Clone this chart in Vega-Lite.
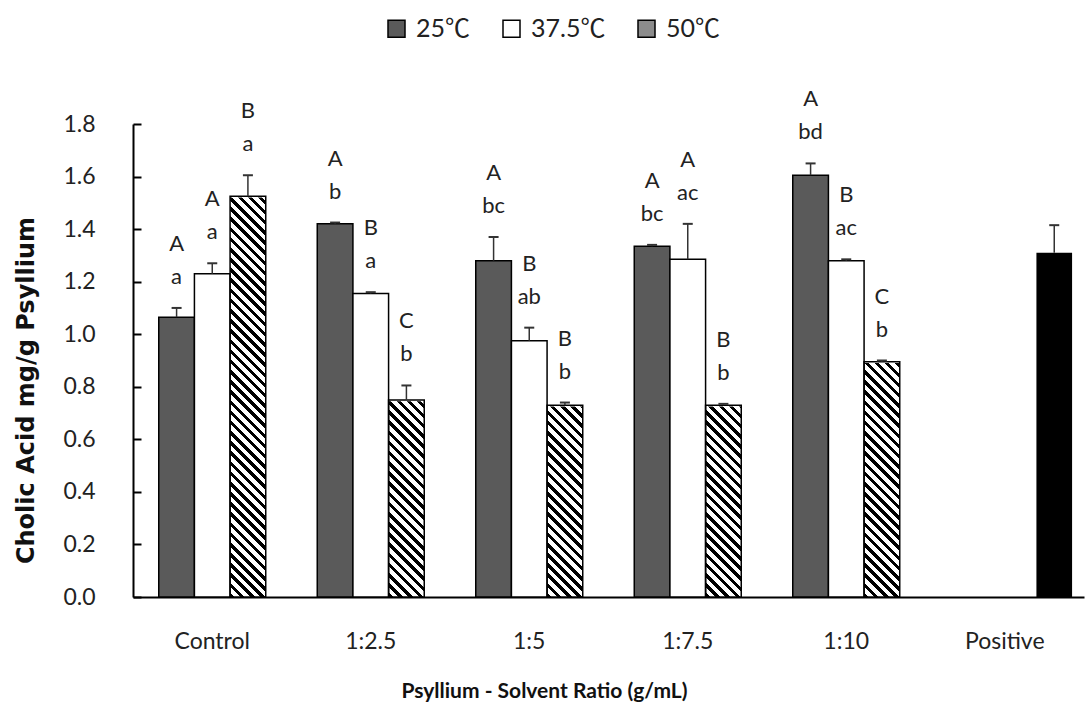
{
 "$schema": "https://vega.github.io/schema/vega-lite/v6.json",
 "width": 951,
 "height": 473,
 "autosize": {"type": "none"},
 "padding": {"left": 133, "top": 124, "right": 1, "bottom": 111},
 "background": "white",
 "config": {"view": {"stroke": null}, "font": "Lato"},
 "data": {"values": [
  {"cat": "Control", "series": "25℃", "value": 1.065, "upper": 1.10, "top": "A", "low": "a"},
  {"cat": "Control", "series": "37.5℃", "value": 1.23, "upper": 1.27, "top": "A", "low": "a"},
  {"cat": "Control", "series": "50℃", "value": 1.525, "upper": 1.605, "top": "B", "low": "a"},
  {"cat": "1:2.5", "series": "25℃", "value": 1.42, "upper": 1.425, "top": "A", "low": "b"},
  {"cat": "1:2.5", "series": "37.5℃", "value": 1.155, "upper": 1.16, "top": "B", "low": "a"},
  {"cat": "1:2.5", "series": "50℃", "value": 0.75, "upper": 0.805, "top": "C", "low": "b"},
  {"cat": "1:5", "series": "25℃", "value": 1.28, "upper": 1.37, "top": "A", "low": "bc"},
  {"cat": "1:5", "series": "37.5℃", "value": 0.975, "upper": 1.025, "top": "B", "low": "ab"},
  {"cat": "1:5", "series": "50℃", "value": 0.73, "upper": 0.74, "top": "B", "low": "b"},
  {"cat": "1:7.5", "series": "25℃", "value": 1.335, "upper": 1.34, "top": "A", "low": "bc"},
  {"cat": "1:7.5", "series": "37.5℃", "value": 1.285, "upper": 1.42, "top": "A", "low": "ac"},
  {"cat": "1:7.5", "series": "50℃", "value": 0.73, "upper": 0.735, "top": "B", "low": "b"},
  {"cat": "1:10", "series": "25℃", "value": 1.605, "upper": 1.65, "top": "A", "low": "bd"},
  {"cat": "1:10", "series": "37.5℃", "value": 1.28, "upper": 1.285, "top": "B", "low": "ac"},
  {"cat": "1:10", "series": "50℃", "value": 0.895, "upper": 0.90, "top": "C", "low": "b"},
  {"cat": "Positive", "series": "Positive", "value": 1.31, "upper": 1.415, "top": "", "low": ""}
 ]},
 "layer": [
  {
   "transform": [{"filter": "datum.cat !== 'Positive'"}],
   "encoding": {
    "x": {"field": "cat", "type": "nominal",
     "scale": {"domain": ["Control", "1:2.5", "1:5", "1:7.5", "1:10", "Positive"], "paddingInner": 0.325, "paddingOuter": 0.1625},
     "axis": {"title": "Psyllium - Solvent Ratio (g/mL)", "labelAngle": 0, "ticks": false, "domainColor": "#000", "domainWidth": 2,
      "labelFont": "Lato", "labelFontSize": 23, "labelColor": "#222", "labelPadding": 33,
      "titleFont": "Lato", "titleFontWeight": "bold", "titleFontSize": 21, "titleColor": "#111", "titleX": 411, "titleY": 83}},
    "xOffset": {"field": "series", "type": "nominal", "scale": {"domain": ["25℃", "37.5℃", "50℃"], "paddingInner": 0, "paddingOuter": 0}}
   },
   "layer": [
    {
     "transform": [{"filter": "datum.series === '50℃'"}],
     "mark": {"type": "bar", "strokeWidth": 0, "fill": {"gradient": "linear", "x1": 0, "y1": 1, "x2": 0.08062, "y2": -0.06931, "stops": [
      {"offset":0,"color":"#000"},{"offset":0.009,"color":"#000"},{"offset":0.009,"color":"#fff"},{"offset":0.02,"color":"#fff"},
      {"offset":0.02,"color":"#000"},{"offset":0.029,"color":"#000"},{"offset":0.029,"color":"#fff"},{"offset":0.04,"color":"#fff"},
      {"offset":0.04,"color":"#000"},{"offset":0.049,"color":"#000"},{"offset":0.049,"color":"#fff"},{"offset":0.06,"color":"#fff"},
      {"offset":0.06,"color":"#000"},{"offset":0.069,"color":"#000"},{"offset":0.069,"color":"#fff"},{"offset":0.08,"color":"#fff"},
      {"offset":0.08,"color":"#000"},{"offset":0.089,"color":"#000"},{"offset":0.089,"color":"#fff"},{"offset":0.1,"color":"#fff"},
      {"offset":0.1,"color":"#000"},{"offset":0.109,"color":"#000"},{"offset":0.109,"color":"#fff"},{"offset":0.12,"color":"#fff"},
      {"offset":0.12,"color":"#000"},{"offset":0.129,"color":"#000"},{"offset":0.129,"color":"#fff"},{"offset":0.14,"color":"#fff"},
      {"offset":0.14,"color":"#000"},{"offset":0.149,"color":"#000"},{"offset":0.149,"color":"#fff"},{"offset":0.16,"color":"#fff"},
      {"offset":0.16,"color":"#000"},{"offset":0.169,"color":"#000"},{"offset":0.169,"color":"#fff"},{"offset":0.18,"color":"#fff"},
      {"offset":0.18,"color":"#000"},{"offset":0.189,"color":"#000"},{"offset":0.189,"color":"#fff"},{"offset":0.2,"color":"#fff"},
      {"offset":0.2,"color":"#000"},{"offset":0.209,"color":"#000"},{"offset":0.209,"color":"#fff"},{"offset":0.22,"color":"#fff"},
      {"offset":0.22,"color":"#000"},{"offset":0.229,"color":"#000"},{"offset":0.229,"color":"#fff"},{"offset":0.24,"color":"#fff"},
      {"offset":0.24,"color":"#000"},{"offset":0.249,"color":"#000"},{"offset":0.249,"color":"#fff"},{"offset":0.26,"color":"#fff"},
      {"offset":0.26,"color":"#000"},{"offset":0.269,"color":"#000"},{"offset":0.269,"color":"#fff"},{"offset":0.28,"color":"#fff"},
      {"offset":0.28,"color":"#000"},{"offset":0.289,"color":"#000"},{"offset":0.289,"color":"#fff"},{"offset":0.3,"color":"#fff"},
      {"offset":0.3,"color":"#000"},{"offset":0.309,"color":"#000"},{"offset":0.309,"color":"#fff"},{"offset":0.32,"color":"#fff"},
      {"offset":0.32,"color":"#000"},{"offset":0.329,"color":"#000"},{"offset":0.329,"color":"#fff"},{"offset":0.34,"color":"#fff"},
      {"offset":0.34,"color":"#000"},{"offset":0.349,"color":"#000"},{"offset":0.349,"color":"#fff"},{"offset":0.36,"color":"#fff"},
      {"offset":0.36,"color":"#000"},{"offset":0.369,"color":"#000"},{"offset":0.369,"color":"#fff"},{"offset":0.38,"color":"#fff"},
      {"offset":0.38,"color":"#000"},{"offset":0.389,"color":"#000"},{"offset":0.389,"color":"#fff"},{"offset":0.4,"color":"#fff"},
      {"offset":0.4,"color":"#000"},{"offset":0.409,"color":"#000"},{"offset":0.409,"color":"#fff"},{"offset":0.42,"color":"#fff"},
      {"offset":0.42,"color":"#000"},{"offset":0.429,"color":"#000"},{"offset":0.429,"color":"#fff"},{"offset":0.44,"color":"#fff"},
      {"offset":0.44,"color":"#000"},{"offset":0.449,"color":"#000"},{"offset":0.449,"color":"#fff"},{"offset":0.46,"color":"#fff"},
      {"offset":0.46,"color":"#000"},{"offset":0.469,"color":"#000"},{"offset":0.469,"color":"#fff"},{"offset":0.48,"color":"#fff"},
      {"offset":0.48,"color":"#000"},{"offset":0.489,"color":"#000"},{"offset":0.489,"color":"#fff"},{"offset":0.5,"color":"#fff"},
      {"offset":0.5,"color":"#000"},{"offset":0.509,"color":"#000"},{"offset":0.509,"color":"#fff"},{"offset":0.52,"color":"#fff"},
      {"offset":0.52,"color":"#000"},{"offset":0.529,"color":"#000"},{"offset":0.529,"color":"#fff"},{"offset":0.54,"color":"#fff"},
      {"offset":0.54,"color":"#000"},{"offset":0.549,"color":"#000"},{"offset":0.549,"color":"#fff"},{"offset":0.56,"color":"#fff"},
      {"offset":0.56,"color":"#000"},{"offset":0.569,"color":"#000"},{"offset":0.569,"color":"#fff"},{"offset":0.58,"color":"#fff"},
      {"offset":0.58,"color":"#000"},{"offset":0.589,"color":"#000"},{"offset":0.589,"color":"#fff"},{"offset":0.6,"color":"#fff"},
      {"offset":0.6,"color":"#000"},{"offset":0.609,"color":"#000"},{"offset":0.609,"color":"#fff"},{"offset":0.62,"color":"#fff"},
      {"offset":0.62,"color":"#000"},{"offset":0.629,"color":"#000"},{"offset":0.629,"color":"#fff"},{"offset":0.64,"color":"#fff"},
      {"offset":0.64,"color":"#000"},{"offset":0.649,"color":"#000"},{"offset":0.649,"color":"#fff"},{"offset":0.66,"color":"#fff"},
      {"offset":0.66,"color":"#000"},{"offset":0.669,"color":"#000"},{"offset":0.669,"color":"#fff"},{"offset":0.68,"color":"#fff"},
      {"offset":0.68,"color":"#000"},{"offset":0.689,"color":"#000"},{"offset":0.689,"color":"#fff"},{"offset":0.7,"color":"#fff"},
      {"offset":0.7,"color":"#000"},{"offset":0.709,"color":"#000"},{"offset":0.709,"color":"#fff"},{"offset":0.72,"color":"#fff"},
      {"offset":0.72,"color":"#000"},{"offset":0.729,"color":"#000"},{"offset":0.729,"color":"#fff"},{"offset":0.74,"color":"#fff"},
      {"offset":0.74,"color":"#000"},{"offset":0.749,"color":"#000"},{"offset":0.749,"color":"#fff"},{"offset":0.76,"color":"#fff"},
      {"offset":0.76,"color":"#000"},{"offset":0.769,"color":"#000"},{"offset":0.769,"color":"#fff"},{"offset":0.78,"color":"#fff"},
      {"offset":0.78,"color":"#000"},{"offset":0.789,"color":"#000"},{"offset":0.789,"color":"#fff"},{"offset":0.8,"color":"#fff"},
      {"offset":0.8,"color":"#000"},{"offset":0.809,"color":"#000"},{"offset":0.809,"color":"#fff"},{"offset":0.82,"color":"#fff"},
      {"offset":0.82,"color":"#000"},{"offset":0.829,"color":"#000"},{"offset":0.829,"color":"#fff"},{"offset":0.84,"color":"#fff"},
      {"offset":0.84,"color":"#000"},{"offset":0.849,"color":"#000"},{"offset":0.849,"color":"#fff"},{"offset":0.86,"color":"#fff"},
      {"offset":0.86,"color":"#000"},{"offset":0.869,"color":"#000"},{"offset":0.869,"color":"#fff"},{"offset":0.88,"color":"#fff"},
      {"offset":0.88,"color":"#000"},{"offset":0.889,"color":"#000"},{"offset":0.889,"color":"#fff"},{"offset":0.9,"color":"#fff"},
      {"offset":0.9,"color":"#000"},{"offset":0.909,"color":"#000"},{"offset":0.909,"color":"#fff"},{"offset":0.92,"color":"#fff"},
      {"offset":0.92,"color":"#000"},{"offset":0.929,"color":"#000"},{"offset":0.929,"color":"#fff"},{"offset":0.94,"color":"#fff"},
      {"offset":0.94,"color":"#000"},{"offset":0.949,"color":"#000"},{"offset":0.949,"color":"#fff"},{"offset":0.96,"color":"#fff"},
      {"offset":0.96,"color":"#000"},{"offset":0.969,"color":"#000"},{"offset":0.969,"color":"#fff"},{"offset":0.98,"color":"#fff"},
      {"offset":0.98,"color":"#000"},{"offset":0.989,"color":"#000"},{"offset":0.989,"color":"#fff"},{"offset":1,"color":"#fff"}
     ]}},
     "encoding": {"y": {"datum": 1.8, "type": "quantitative", "stack": null, "scale": {"domain": [0, 1.8], "nice": false}}}
    },
    {
     "transform": [{"filter": "datum.series === '50℃'"}],
     "mark": {"type": "bar", "fill": "#ffffff", "stroke": "#ffffff", "strokeWidth": 2.5},
     "encoding": {"y": {"field": "value", "type": "quantitative", "stack": null, "scale": {"domain": [0, 1.8], "nice": false}}, "y2": {"datum": 1.8}}
    },
    {
     "transform": [{"filter": "datum.series !== '50℃'"}],
     "mark": {"type": "bar", "stroke": "#000", "strokeWidth": 1.5},
     "encoding": {
      "y": {"field": "value", "type": "quantitative", "stack": null, "scale": {"domain": [0, 1.8], "nice": false},
       "axis": {"title": "Cholic Acid mg/g Psyllium", "values": [0, 0.2, 0.4, 0.6, 0.8, 1, 1.2, 1.4, 1.6, 1.8], "format": ".1f", "grid": false,
        "domainColor": "#000", "domainWidth": 2, "tickColor": "#000", "tickWidth": 2, "tickSize": -8, "labelPadding": 46,
        "labelFont": "Lato", "labelFontSize": 23, "labelColor": "#222",
        "titleFont": "DejaVu Sans", "titleFontWeight": "bold", "titleFontSize": 24, "titleColor": "#111",
        "titleX": -95, "titleY": 266, "titleAngle": -90, "titleBaseline": "bottom", "titleAlign": "center"}},
      "fill": {"field": "series", "type": "nominal",
       "scale": {"domain": ["25℃", "37.5℃", "50℃"], "range": ["#5a5a5a", "#ffffff", "#8c8c8c"]},
       "legend": {"orient": "none", "legendX": 251, "legendY": -108, "direction": "horizontal", "title": null,
        "symbolType": "square", "symbolSize": 289, "symbolStrokeColor": "#000", "symbolStrokeWidth": 1.5,
        "labelFont": "Lato, 'Noto Sans CJK SC'", "labelFontSize": 25, "labelColor": "#222", "columnPadding": 28, "labelOffset": 7}}
     }
    },
    {
     "transform": [{"filter": "datum.series === '50℃'"}],
     "mark": {"type": "bar", "fill": "transparent", "stroke": "#000", "strokeWidth": 1.5},
     "encoding": {"y": {"field": "value", "type": "quantitative", "stack": null, "scale": {"domain": [0, 1.8], "nice": false}}}
    },
    {
     "mark": {"type": "rule", "stroke": "#333", "strokeWidth": 1.5},
     "encoding": {"y": {"field": "value", "type": "quantitative", "scale": {"domain": [0, 1.8], "nice": false}}, "y2": {"field": "upper"}}
    },
    {
     "mark": {"type": "point", "shape": "M-1,0L1,0", "size": 100, "filled": false, "stroke": "#333", "strokeWidth": 2, "opacity": 1},
     "encoding": {"y": {"field": "upper", "type": "quantitative", "scale": {"domain": [0, 1.8], "nice": false}}}
    },
    {
     "mark": {"type": "text", "dy": -24, "font": "Lato", "fontSize": 22, "fill": "#222", "baseline": "alphabetic", "align": "center"},
     "encoding": {"y": {"field": "upper", "type": "quantitative", "scale": {"domain": [0, 1.8], "nice": false}}, "text": {"field": "low", "type": "nominal"}}
    },
    {
     "mark": {"type": "text", "dy": -57, "font": "Lato", "fontSize": 22, "fill": "#222", "baseline": "alphabetic", "align": "center"},
     "encoding": {"y": {"field": "upper", "type": "quantitative", "scale": {"domain": [0, 1.8], "nice": false}}, "text": {"field": "top", "type": "nominal"}}
    }
   ]
  },
  {
   "transform": [{"filter": "datum.cat === 'Positive'"}],
   "mark": {"type": "bar", "fill": "#000", "width": 35.66, "xOffset": 49.5},
   "encoding": {
    "x": {"field": "cat", "type": "nominal",
     "scale": {"domain": ["Control", "1:2.5", "1:5", "1:7.5", "1:10", "Positive"], "paddingInner": 0.325, "paddingOuter": 0.1625}},
    "y": {"field": "value", "type": "quantitative", "stack": null, "scale": {"domain": [0, 1.8], "nice": false}}
   }
  },
  {
   "transform": [{"filter": "datum.cat === 'Positive'"}],
   "mark": {"type": "rule", "stroke": "#333", "strokeWidth": 1.5, "xOffset": 49.5},
   "encoding": {
    "x": {"field": "cat", "type": "nominal",
     "scale": {"domain": ["Control", "1:2.5", "1:5", "1:7.5", "1:10", "Positive"], "paddingInner": 0.325, "paddingOuter": 0.1625}},
    "y": {"field": "value", "type": "quantitative", "scale": {"domain": [0, 1.8], "nice": false}},
    "y2": {"field": "upper"}
   }
  },
  {
   "transform": [{"filter": "datum.cat === 'Positive'"}],
   "mark": {"type": "point", "shape": "M-1,0L1,0", "size": 100, "filled": false, "stroke": "#333", "strokeWidth": 2, "opacity": 1, "xOffset": 49.5},
   "encoding": {
    "x": {"field": "cat", "type": "nominal",
     "scale": {"domain": ["Control", "1:2.5", "1:5", "1:7.5", "1:10", "Positive"], "paddingInner": 0.325, "paddingOuter": 0.1625}},
    "y": {"field": "upper", "type": "quantitative", "scale": {"domain": [0, 1.8], "nice": false}}
   }
  }
 ]
}
